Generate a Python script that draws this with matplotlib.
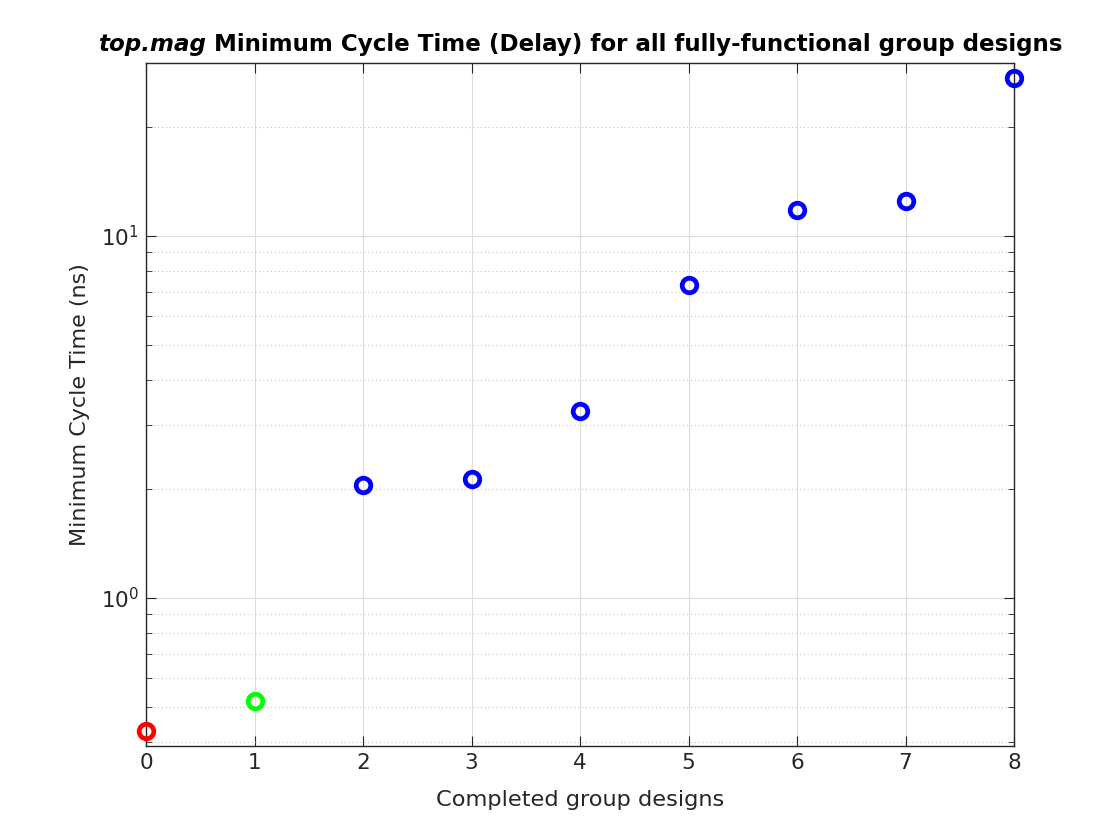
import numpy as np
import matplotlib
matplotlib.use('Agg')
import matplotlib.pyplot as plt
from matplotlib.ticker import LogLocator, NullFormatter

designs = [0, 1, 2, 3, 4, 5, 6, 7, 8]
cycle_time = [0.429, 0.519, 2.05, 2.13, 3.29, 7.32, 11.8, 12.5, 27.3]
colors = ['#ff0000', '#00ff00', '#0000ff', '#0000ff', '#0000ff',
          '#0000ff', '#0000ff', '#0000ff', '#0000ff']

axcol = '#262626'
plt.rcParams['font.family'] = 'DejaVu Sans'

fig = plt.figure(figsize=(11.2, 8.4), dpi=100)
ax = fig.add_axes([0.1304, 0.1119, 0.775, 0.8131])

for x, y, c in zip(designs, cycle_time, colors):
    ax.plot(x, y, 'o', markersize=10.5, markerfacecolor='none',
            markeredgecolor=c, markeredgewidth=3.4, clip_on=False, zorder=5)

ax.set_yscale('log')
ax.set_xlim(0, 8)
ax.set_ylim(0.39, 30.0)
ax.set_xticks(designs)
ax.yaxis.set_major_locator(LogLocator(base=10, numticks=10))
ax.yaxis.set_minor_locator(LogLocator(base=10, subs=np.arange(2, 10), numticks=20))
ax.yaxis.set_minor_formatter(NullFormatter())

ax.grid(True, which='major', color='#dcdcdc', linewidth=0.8)
ax.grid(True, which='minor', axis='y', color='#c8c8c8', linestyle=(0, (1, 2.5)), linewidth=0.8)
ax.set_axisbelow(True)

for s in ax.spines.values():
    s.set_color(axcol)
    s.set_linewidth(1.0)
ax.tick_params(which='both', direction='in', top=True, right=True, color=axcol,
               labelcolor=axcol, labelsize=15.5, pad=5)
ax.tick_params(which='major', length=7)
ax.tick_params(which='minor', length=4)

ax.set_xlabel('Completed group designs', fontsize=16.2, color=axcol, labelpad=12)
ax.set_ylabel('Minimum Cycle Time (ns)', fontsize=16, color=axcol, labelpad=8)

t1 = ax.text(0, 1.01, 'top.mag', transform=ax.transAxes, fontsize=16.6,
             fontweight='bold', fontstyle='italic', ha='left', va='bottom')
t2 = ax.annotate(' Minimum Cycle Time (Delay) for all fully-functional group designs',
                 xy=(1, 0), xycoords=t1, fontsize=16.6, fontweight='bold',
                 ha='left', va='bottom')
fig.canvas.draw()
w = t1.get_window_extent().width + t2.get_window_extent().width
axb = ax.get_window_extent()
cx = (axb.x0 + axb.x1) / 2
x0 = (cx - w / 2 - axb.x0) / axb.width
t1.set_x(x0)

fig.savefig('out.png', dpi=100)
